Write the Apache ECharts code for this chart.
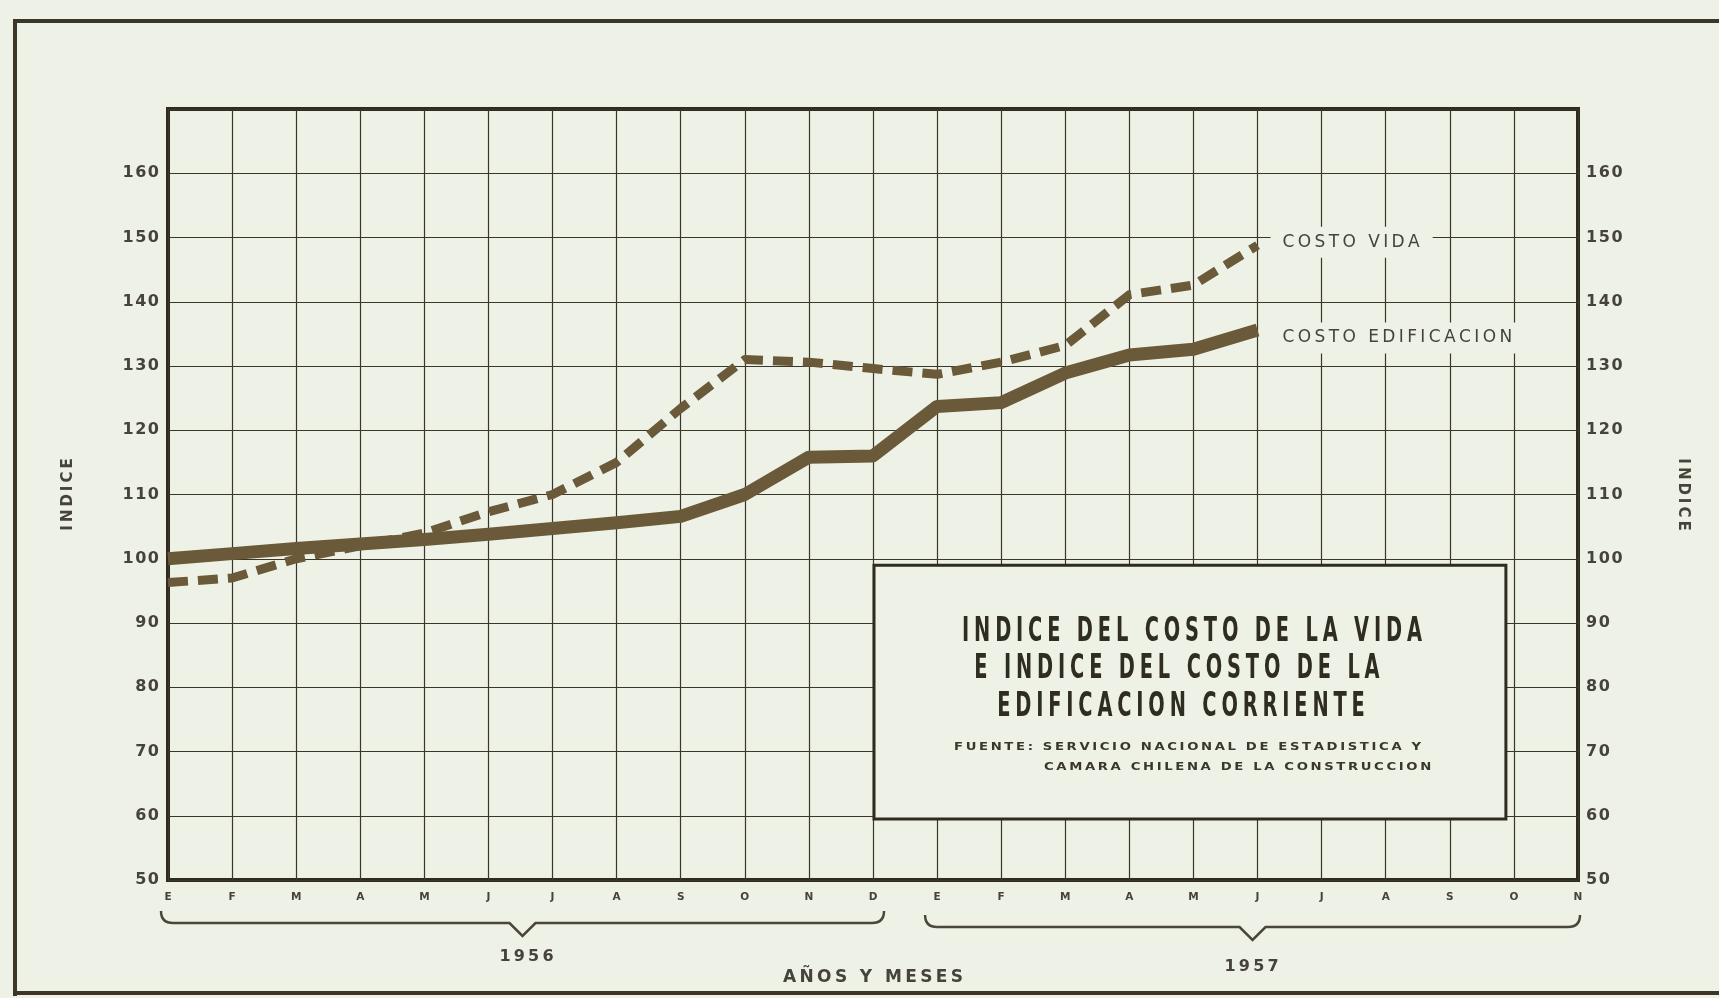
<!DOCTYPE html>
<html>
<head>
<meta charset="utf-8">
<script src="https://cdn.jsdelivr.net/npm/echarts@6/dist/echarts.min.js"></script>
<style>
html,body{margin:0;padding:0;background:#eef2e6;}
#chart{width:1719px;height:998px;}
</style>
</head>
<body>
<div id="chart"></div>
<script>
// ---- data ----
const categories = ['Ene 1956','Feb 1956','Mar 1956','Abr 1956','May 1956','Jun 1956','Jul 1956','Ago 1956','Sep 1956','Oct 1956','Nov 1956','Dic 1956',
                    'Ene 1957','Feb 1957','Mar 1957','Abr 1957','May 1957','Jun 1957','Jul 1957','Ago 1957','Sep 1957','Oct 1957','Nov 1957'];
const costoEdificacion = [100, 100.8, 101.6, 102.3, 103, 103.8, 104.7, 105.6, 106.6, 110, 115.8, 116, 123.7, 124.3, 128.9, 131.7, 132.6, 135.6];
const costoVida = [96.3, 97, 100, 102, 104, 107.3, 110, 115, 123.4, 131, 130.6, 129.6, 128.7, 130.6, 133.2, 141.1, 142.6, 148.8];
const yTicks = [50, 60, 70, 80, 90, 100, 110, 120, 130, 140, 150, 160];
const years = ['1956', '1957'];
const titleLines = ['INDICE DEL COSTO DE LA VIDA', 'E INDICE DEL COSTO DE LA', 'EDIFICACION CORRIENTE'];
const sourceLines = ['FUENTE: SERVICIO NACIONAL DE ESTADISTICA Y', 'CAMARA CHILENA DE LA CONSTRUCCION'];
const seriesNames = ['COSTO VIDA', 'COSTO EDIFICACION'];

const BG = '#eef2e6';
const INK = '#3a3628';
const TXT = '#46433a';
const LINE = '#6b5a3a';
const THIN = '\u2009';
const HAIR = '\u200A';
const QUARTER = '\u2005';
const spaced = (s, sep) => s.split('').join(sep);

const chart = echarts.init(document.getElementById('chart'));
const option = {
  backgroundColor: BG,
  animation: false,
  grid: { left: 168, right: 141, top: 109, bottom: 118, show: true, borderColor: '#2f2b20', borderWidth: 4, backgroundColor: 'transparent' },
  xAxis: {
    type: 'category', data: categories, boundaryGap: false,
    axisLine: { show: false }, axisTick: { show: false },
    axisLabel: { formatter: v => v.charAt(0), fontFamily: 'DejaVu Sans', fontWeight: 'bold', fontSize: 10.5, color: TXT, margin: 12, interval: 0 },
    splitLine: { show: true, lineStyle: { color: INK, width: 1.2 } },
    name: spaced('AÑOS Y MESES', THIN), nameLocation: 'middle', nameGap: 89,
    nameTextStyle: { fontFamily: 'DejaVu Sans', fontWeight: 'bold', fontSize: 17, color: TXT }
  },
  yAxis: [
    {
      type: 'value', min: 50, max: 170, interval: 10, position: 'left',
      axisLine: { show: false }, axisTick: { show: false },
      axisLabel: { formatter: v => yTicks.includes(v) ? spaced(String(v), HAIR) : '', fontFamily: 'DejaVu Sans', fontWeight: 'bold', fontSize: 16, color: TXT, margin: 9 },
      splitLine: { show: true, lineStyle: { color: INK, width: 1.2 } },
      name: spaced('INDICE', THIN), nameLocation: 'middle', nameRotate: 90, nameGap: 92,
      nameTextStyle: { fontFamily: 'DejaVu Sans', fontWeight: 'bold', fontSize: 15, color: TXT }
    },
    {
      type: 'value', min: 50, max: 170, interval: 10, position: 'right',
      axisLine: { show: false }, axisTick: { show: false },
      axisLabel: { formatter: v => yTicks.includes(v) ? spaced(String(v), HAIR) : '', fontFamily: 'DejaVu Sans', fontWeight: 'bold', fontSize: 16, color: TXT, margin: 8 },
      splitLine: { show: false },
      name: spaced('INDICE', THIN), nameLocation: 'middle', nameRotate: -90, nameGap: 97,
      nameTextStyle: { fontFamily: 'DejaVu Sans', fontWeight: 'bold', fontSize: 15, color: TXT }
    }
  ],
  series: [
    {
      name: seriesNames[0], type: 'line', data: costoVida, symbol: 'none', z: 3,
      lineStyle: { color: LINE, width: 9, type: [20, 10], cap: 'butt', join: 'round' },
      endLabel: { show: true, formatter: () => spaced(seriesNames[0], THIN), fontFamily: 'DejaVu Sans', fontSize: 17, color: TXT,
                  backgroundColor: BG, padding: [7, 13, 7, 12], distance: 13, offset: [0, -3] }
    },
    {
      name: seriesNames[1], type: 'line', data: costoEdificacion, symbol: 'none', z: 4,
      lineStyle: { color: LINE, width: 13, cap: 'butt', join: 'round' },
      endLabel: { show: true, formatter: () => spaced(seriesNames[1], THIN), fontFamily: 'DejaVu Sans', fontSize: 17, color: TXT,
                  backgroundColor: BG, padding: [7, 10, 7, 12], distance: 13, offset: [0, 8] }
    }
  ]
};
chart.setOption(option);

const P = (i, v) => chart.convertToPixel({ xAxisIndex: 0, yAxisIndex: 0 }, [i, v]);
const bx0 = P(11, 100)[0] + 1, bx1 = P(21, 100)[0] - 8;
const by0 = P(0, 99)[1], by1 = P(0, 59.5)[1];
const bcx = (bx0 + bx1) / 2;

const BR = { stroke: '#4a463a', lineWidth: 2.5, fill: null };
function brace(x0, x1, y, h, d) {
  const xm = (x0 + x1) / 2;
  return [
    { type: 'bezierCurve', shape: { x1: x0, y1: y - h, cpx1: x0, cpy1: y, x2: x0 + h, y2: y }, style: BR },
    { type: 'polyline', shape: { points: [[x0 + h, y], [xm - d, y], [xm, y + d], [xm + d, y], [x1 - h, y]] }, style: BR },
    { type: 'bezierCurve', shape: { x1: x1 - h, y1: y, cpx1: x1, cpy1: y, x2: x1, y2: y - h }, style: BR }
  ];
}
const e56 = P(0, 50)[0], d56 = P(11, 50)[0], e57 = P(12, 50)[0], n57 = P(22, 50)[0];

const TF = "bold 34px 'DejaVu Sans'";
const titleText = (txt, dx, dy) => ({
  type: 'text', z: 11, x: bcx + dx, y: by0 + dy, scaleX: 0.57,
  style: { text: spaced(txt, QUARTER), font: TF, fill: '#2f2c22', align: 'center', verticalAlign: 'middle' }
});
const srcText = (txt, dx, dy) => ({
  type: 'text', z: 11, x: bx0 + dx, y: by0 + dy, scaleX: 1.2,
  style: { text: spaced(txt, THIN), font: "bold 11px 'DejaVu Sans'", fill: '#3a372c', align: 'left', verticalAlign: 'middle' }
});

const graphics = [
  // outer frame
  { type: 'line', shape: { x1: 14, y1: 21, x2: 1719, y2: 21 }, style: { stroke: '#3b3626', lineWidth: 4 } },
  { type: 'line', shape: { x1: 15, y1: 19, x2: 15, y2: 996 }, style: { stroke: '#3b3626', lineWidth: 4 } },
  { type: 'line', shape: { x1: 13, y1: 993, x2: 1719, y2: 993 }, style: { stroke: '#3b3626', lineWidth: 4 } },
  // title box
  { type: 'rect', z: 10, shape: { x: bx0, y: by0, width: bx1 - bx0, height: by1 - by0 }, style: { fill: BG, stroke: '#2f2b20', lineWidth: 3 } },
  titleText(titleLines[0], 2, 67),
  titleText(titleLines[1], -13, 104),
  titleText(titleLines[2], -9, 142),
  srcText(sourceLines[0], 80, 182),
  srcText(sourceLines[1], 170, 202),
  // year braces and labels
  ...brace(e56 - 7, d56 + 11, 923, 12, 13),
  ...brace(e57 - 12, n57 + 2, 927, 12, 13),
  { type: 'text', x: (e56 + d56) / 2 + 6, y: 957, style: { text: spaced(years[0], THIN), font: "bold 16px 'DejaVu Sans'", fill: TXT, align: 'center', verticalAlign: 'middle' } },
  { type: 'text', x: (e57 + n57) / 2 - 6, y: 967, style: { text: spaced(years[1], THIN), font: "bold 16px 'DejaVu Sans'", fill: TXT, align: 'center', verticalAlign: 'middle' } }
];
chart.setOption({ graphic: graphics });
</script>
</body>
</html>
